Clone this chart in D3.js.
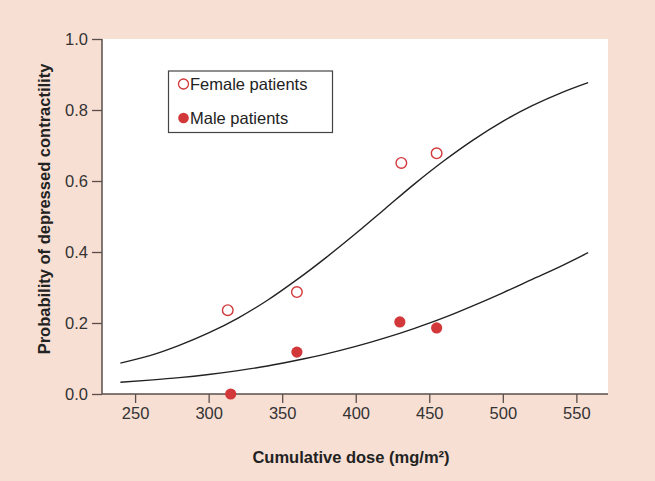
<!DOCTYPE html>
<html><head><meta charset="utf-8">
<script src="https://cdn.jsdelivr.net/npm/d3@7"></script>
<style>
html,body{margin:0;padding:0;background:#f8dfd3;}
svg{display:block;font-family:"Liberation Sans",Arial,Helvetica,sans-serif;}
</style></head>
<body>
<svg id="c" width="655" height="481"></svg>
<script>
// Data
const xTicks = [250, 300, 350, 400, 450, 500, 550];
const yTicks = [0, 0.2, 0.4, 0.6, 0.8, 1.0];
const femaleDose = [313, 360, 431, 455];
const femaleProb = [0.236, 0.287, 0.651, 0.678];
const maleDose = [315, 360, 430, 455];
const maleProb = [0.0, 0.118, 0.203, 0.186];
const curveDose = [240, 260, 280, 300, 320, 340, 360, 380, 400, 420, 440, 460, 480, 500, 520, 540, 558];
const femaleFit = [0.087, 0.108, 0.137, 0.172, 0.214, 0.264, 0.322, 0.385, 0.452, 0.522, 0.592, 0.657, 0.716, 0.768, 0.812, 0.849, 0.877];
const maleFit = [0.033, 0.039, 0.046, 0.055, 0.066, 0.079, 0.095, 0.113, 0.134, 0.158, 0.185, 0.215, 0.249, 0.285, 0.323, 0.361, 0.398];
const legendLabels = ["Female patients", "Male patients"];

const svg = d3.select("#c");
const L = 102, R = 608, T = 39, B = 394;
const x = d3.scaleLinear().domain([227.5, 571.5]).range([L, R]);
const y = d3.scaleLinear().domain([0, 1]).range([B, T]);
const red = "#d2373a";
const axisCol = "#5b4e4a";

svg.append("rect").attr("x", 0).attr("y", 0).attr("width", 655).attr("height", 481).attr("fill", "#f8dfd3");
svg.append("rect").attr("x", L).attr("y", T).attr("width", R - L).attr("height", B - T).attr("fill", "#fff");

// axes
const xa = svg.append("g").attr("transform", `translate(0,${B})`)
  .call(d3.axisBottom(x).tickValues(xTicks).tickSize(9).tickPadding(4).tickFormat(d3.format("d")));
const ya = svg.append("g").attr("transform", `translate(${L},0)`)
  .call(d3.axisLeft(y).tickValues(yTicks).tickSize(10).tickPadding(4).tickFormat(d3.format(".1f")));
[xa, ya].forEach(g => {
  g.attr("font-size", null).attr("font-family", null);
  g.selectAll("path.domain").attr("stroke", axisCol).attr("stroke-width", 1.5);
  g.selectAll(".tick line").attr("stroke", axisCol).attr("stroke-width", 1.3);
  g.selectAll("text").attr("fill", "#333").style("font-size", "16.5px");
});
xa.select("path.domain").attr("d", `M${L},0H${R}`);
ya.select("path.domain").attr("d", `M0,${B}V${T}`);

// fitted curves
const line = d3.line().x(d => x(d[0])).y(d => y(d[1])).curve(d3.curveMonotoneX);
[femaleFit, maleFit].forEach(arr => {
  svg.append("path").datum(curveDose.map((d, i) => [d, arr[i]]))
    .attr("d", line).attr("fill", "none").attr("stroke", "#222").attr("stroke-width", 1.4);
});

// points
svg.selectAll("circle.f").data(femaleDose.map((d, i) => [d, femaleProb[i]])).enter()
  .append("circle").attr("cx", d => x(d[0])).attr("cy", d => y(d[1])).attr("r", 5.3)
  .attr("fill", "#fff").attr("stroke", red).attr("stroke-width", 1.4);
svg.selectAll("circle.m").data(maleDose.map((d, i) => [d, maleProb[i]])).enter()
  .append("circle").attr("cx", d => x(d[0])).attr("cy", d => y(d[1])).attr("r", 5.6)
  .attr("fill", red);

// legend
const lg = svg.append("g");
lg.append("rect").attr("x", 168.5).attr("y", 71).attr("width", 164).attr("height", 61.5)
  .attr("fill", "#fff").attr("stroke", "#444").attr("stroke-width", 1.2);
lg.append("circle").attr("cx", 183.5).attr("cy", 84).attr("r", 5).attr("fill", "#fff").attr("stroke", red).attr("stroke-width", 1.3);
lg.append("circle").attr("cx", 183.5).attr("cy", 118).attr("r", 5.3).attr("fill", red);
lg.selectAll("text").data(legendLabels).enter().append("text")
  .attr("x", 190).attr("y", (d, i) => 90 + i * 34).text(d => d)
  .attr("fill", "#222").style("font-size", "16.5px");

// axis titles
svg.append("text").attr("x", 351).attr("y", 463).attr("text-anchor", "middle")
  .style("font-size", "16.5px").style("font-weight", "bold").attr("fill", "#222")
  .text("Cumulative dose (mg/m²)");
svg.append("text").attr("transform", "translate(50,209) rotate(-90)").attr("text-anchor", "middle")
  .style("font-size", "16.5px").style("font-weight", "bold").attr("fill", "#222")
  .text("Probability of depressed contractility");
</script>
</body></html>
